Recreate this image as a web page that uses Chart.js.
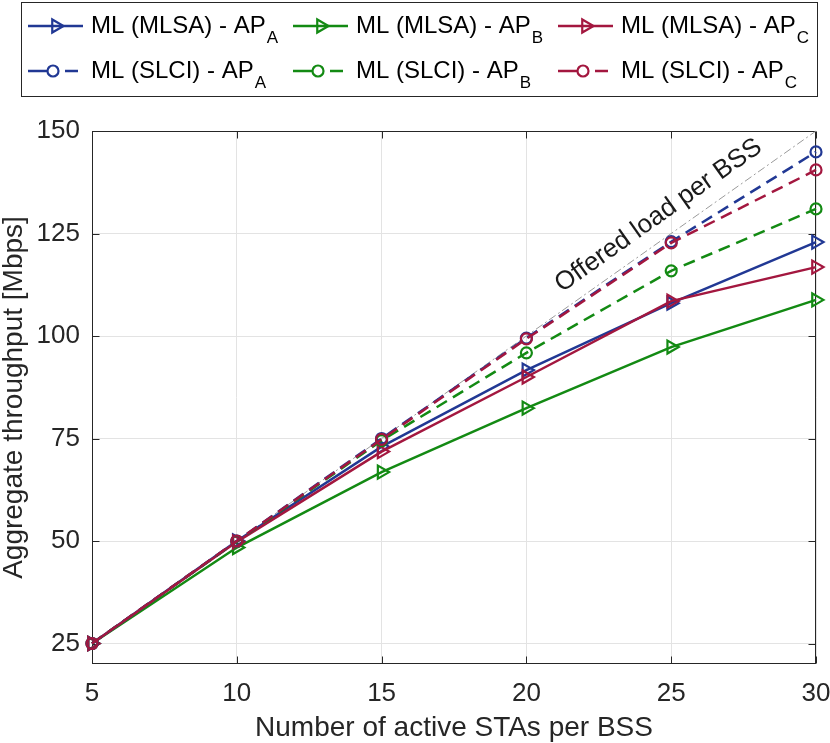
<!DOCTYPE html>
<html><head><meta charset="utf-8">
<script src="https://cdn.jsdelivr.net/npm/chart.js@4/dist/chart.umd.min.js"></script>
<style>html,body{margin:0;padding:0;background:#fff}</style>
</head><body>
<canvas id="c" width="830" height="743"></canvas>
<script>
const xValues = [5, 10, 15, 20, 25, 30];
const yTicks = [25, 50, 75, 100, 125, 150];
const offeredLoad = [25, 50, 75, 100, 125, 150];
const mlsaA = [25, 50, 73, 91.7, 108, 122.9];
const mlsaB = [25, 48.4, 66.8, 82.4, 97.3, 108.8];
const mlsaC = [25, 49.8, 71.8, 90, 108.5, 116.8];
const slciA = [25, 50, 75, 99.5, 123, 144.9];
const slciB = [25, 49.9, 74.5, 95.9, 115.9, 131];
const slciC = [25, 50, 74.8, 99.3, 122.7, 140.5];
const legendMain = ['ML (MLSA) - AP', 'ML (MLSA) - AP', 'ML (MLSA) - AP', 'ML (SLCI) - AP', 'ML (SLCI) - AP', 'ML (SLCI) - AP'];
const legendSub = ['A', 'B', 'C', 'A', 'B', 'C'];
const offeredLabel = 'Offered load per BSS';
const xTitle = 'Number of active STAs per BSS';
const yTitle = 'Aggregate throughput [Mbps]';

const FONT = "'Liberation Sans', Arial, Helvetica, sans-serif";
const BLUE = '#213894', GREEN = '#138a13', RED = '#a3173f', INK = '#262626';
const DASH = [12, 7];

function pts(arr) { return arr.map((v, i) => ({x: xValues[i], y: v})); }

function mk(label, data, color, dashed, order) {
  return {
    label, data: pts(data), borderColor: color, backgroundColor: 'rgba(0,0,0,0)',
    borderWidth: 2.5, borderDash: dashed ? DASH : [],
    pointStyle: dashed ? 'circle' : 'triangle', pointRotation: dashed ? 0 : 90,
    pointRadius: dashed ? 5.5 : 7.5, pointBorderWidth: 2.2,
    pointBorderColor: color, pointBackgroundColor: 'rgba(0,0,0,0)',
    tension: 0, clip: false, order
  };
}

const datasets = [
  mk(legendMain[0] + legendSub[0], mlsaA, BLUE, false, 4),
  mk(legendMain[1] + legendSub[1], mlsaB, GREEN, false, 5),
  mk(legendMain[2] + legendSub[2], mlsaC, RED, false, 3),
  mk(legendMain[3] + legendSub[3], slciA, BLUE, true, 1),
  mk(legendMain[4] + legendSub[4], slciB, GREEN, true, 2),
  mk(legendMain[5] + legendSub[5], slciC, RED, true, 0),
  {label: offeredLabel, data: pts(offeredLoad), borderColor: '#9a9a9a', borderWidth: 1,
   borderDash: [8, 3, 2, 3], pointRadius: 0, clip: false, order: 10, fill: false}
];

function drawMarker(ctx, style, x, y, color) {
  ctx.save();
  ctx.strokeStyle = color; ctx.lineWidth = 2.2; ctx.setLineDash([]);
  ctx.beginPath();
  if (style === 'circle') {
    ctx.arc(x, y, 5.5, 0, Math.PI * 2);
  } else {
    const r = 7.5;
    let rad = Math.PI / 2;
    ctx.moveTo(x + Math.sin(rad) * r, y - Math.cos(rad) * r);
    rad += 2 * Math.PI / 3;
    ctx.lineTo(x + Math.sin(rad) * r, y - Math.cos(rad) * r);
    rad += 2 * Math.PI / 3;
    ctx.lineTo(x + Math.sin(rad) * r, y - Math.cos(rad) * r);
    ctx.closePath();
  }
  ctx.stroke();
  ctx.restore();
}

const framePlugin = {
  id: 'frame',
  beforeDatasetsDraw(chart) {
    const {ctx, chartArea: a, scales: {x, y}} = chart;
    ctx.save();
    ctx.strokeStyle = INK; ctx.lineWidth = 1;
    const L = Math.round(a.left) + 0.5, R = Math.round(a.right) - 0.5;
    const T = Math.round(a.top) + 0.5, B = Math.round(a.bottom) - 0.5;
    ctx.strokeRect(L, T, R - L, B - T);
    ctx.beginPath();
    const tl = 7;
    xValues.forEach(v => {
      const px = Math.round(x.getPixelForValue(v)) + 0.5;
      ctx.moveTo(px, B); ctx.lineTo(px, B - tl);
      ctx.moveTo(px, T); ctx.lineTo(px, T + tl);
    });
    yTicks.forEach(v => {
      const py = Math.round(y.getPixelForValue(v)) + 0.5;
      ctx.moveTo(L, py); ctx.lineTo(L + tl, py);
      ctx.moveTo(R, py); ctx.lineTo(R - tl, py);
    });
    ctx.stroke();
    ctx.restore();
  }
};

const offeredPlugin = {
  id: 'offered',
  afterDatasetsDraw(chart) {
    const {ctx, scales: {x, y}} = chart;
    const i = 4;
    const px = x.getPixelForValue(xValues[i]), py = y.getPixelForValue(offeredLoad[i]);
    const dx = x.getPixelForValue(xValues[5]) - x.getPixelForValue(xValues[0]);
    const dy = y.getPixelForValue(offeredLoad[5]) - y.getPixelForValue(offeredLoad[0]);
    const ang = Math.atan2(dy, dx);
    ctx.save();
    ctx.translate(px, py);
    ctx.rotate(ang);
    ctx.font = '26px ' + FONT;
    ctx.fillStyle = '#1a1a1a';
    ctx.textAlign = 'center';
    ctx.textBaseline = 'middle';
    ctx.fillText(offeredLabel, 0, -22);
    ctx.restore();
  }
};

const legendPlugin = {
  id: 'mylegend',
  afterDraw(chart) {
    const ctx = chart.ctx;
    ctx.save();
    ctx.fillStyle = '#fff';
    ctx.fillRect(21, 2, 797, 95);
    ctx.strokeStyle = INK; ctx.lineWidth = 1;
    ctx.strokeRect(21.5, 2.5, 796, 94);
    const colX = [28, 293, 558];
    const rowY = [26, 71];
    const colors = [BLUE, GREEN, RED];
    for (let k = 0; k < 6; k++) {
      const row = Math.floor(k / 3), col = k % 3;
      const x0 = colX[col], yy = rowY[row];
      const color = colors[col];
      const dashed = row === 1;
      ctx.save();
      ctx.strokeStyle = color; ctx.lineWidth = 2.5;
      ctx.beginPath();
      if (dashed) {
        ctx.moveTo(x0, yy); ctx.lineTo(x0 + 19, yy);
        ctx.moveTo(x0 + 37, yy); ctx.lineTo(x0 + 50, yy);
      } else {
        ctx.moveTo(x0, yy); ctx.lineTo(x0 + 55, yy);
      }
      ctx.stroke();
      ctx.restore();
      drawMarker(ctx, dashed ? 'circle' : 'triangle', dashed ? x0 + 25 : x0 + 28, yy, color);
      ctx.fillStyle = '#000';
      ctx.textAlign = 'left'; ctx.textBaseline = 'alphabetic';
      ctx.font = '24px ' + FONT;
      const tx = x0 + 63;
      ctx.fillText(legendMain[k], tx, yy + 7);
      const w = ctx.measureText(legendMain[k]).width;
      ctx.font = '17px ' + FONT;
      ctx.fillText(legendSub[k], tx + w + 1, yy + 17);
    }
    ctx.restore();
  }
};

new Chart(document.getElementById('c'), {
  type: 'line',
  data: {datasets},
  plugins: [framePlugin, offeredPlugin, legendPlugin],
  options: {
    responsive: false,
    animation: false,
    layout: {autoPadding: false, padding: {top: 131, right: 14, left: 0, bottom: 0}},
    plugins: {legend: {display: false}, tooltip: {enabled: false}},
    scales: {
      x: {
        type: 'linear', min: 5, max: 30,
        afterBuildTicks: s => { s.ticks = xValues.map(v => ({value: v})); },
        afterFit: s => { s.height = 79; s.paddingLeft = 0; s.paddingRight = 0; s.paddingTop = 0; s.paddingBottom = 0; },
        grid: {color: '#e3e3e3', drawTicks: false, lineWidth: 1},
        border: {display: false},
        ticks: {font: {size: 26, family: FONT}, color: INK, padding: 14},
        title: {display: true, text: xTitle, color: INK, font: {size: 28, family: FONT, lineHeight: 1.2}, padding: {top: 0, bottom: -2}}
      },
      y: {
        type: 'linear', min: 20, max: 150,
        afterBuildTicks: s => { s.ticks = yTicks.map(v => ({value: v})); },
        afterFit: s => { s.width = 92; s.paddingLeft = 0; s.paddingRight = 0; s.paddingTop = 0; s.paddingBottom = 0; },
        grid: {color: '#e3e3e3', drawTicks: false, lineWidth: 1},
        border: {display: false},
        ticks: {font: {size: 26, family: FONT}, color: INK, padding: 12},
        title: {display: true, text: yTitle, color: INK, font: {size: 28, family: FONT, lineHeight: 1}, padding: {top: 0, bottom: 0}}
      }
    }
  }
});
</script>
</body></html>
